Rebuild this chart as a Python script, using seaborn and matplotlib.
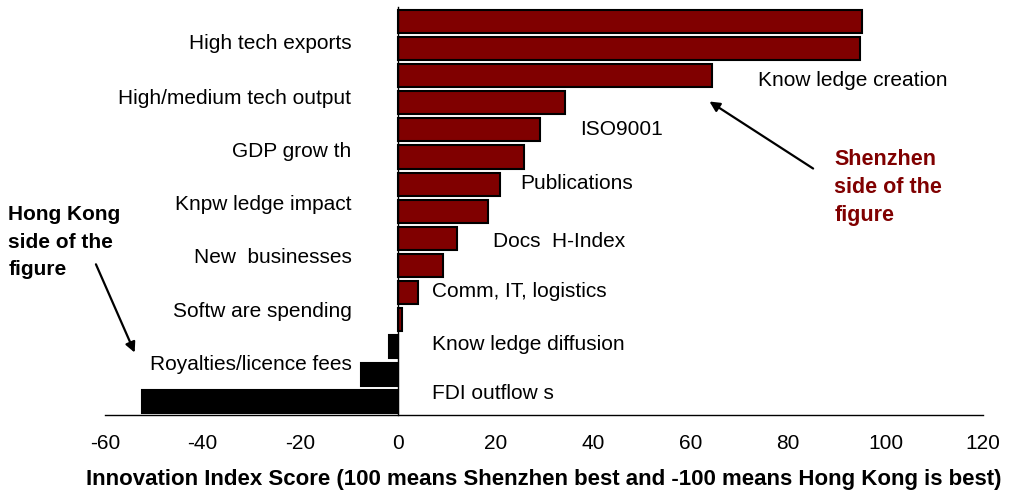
import matplotlib
matplotlib.use("Agg")
import matplotlib.pyplot as plt
import seaborn as sns
import pandas as pd
import numpy as np

# ---- data ----
bar_values = [95.1, 94.7, 64.5, 34.2, 29.2, 25.9, 21.0, 18.5, 12.2, 9.3, 4.2, 0.9, -1.8, -7.6, -52.5]
left_labels = ["High tech exports", "High/medium tech output", "GDP grow th",
               "Knpw ledge impact", "New  businesses", "Softw are spending",
               "Royalties/licence fees"]
right_labels = ["Know ledge creation", "ISO9001", "Publications", "Docs  H-Index",
                "Comm, IT, logistics", "Know ledge diffusion", "FDI outflow s"]
x_ticks = [-60, -40, -20, 0, 20, 40, 60, 80, 100, 120]
x_label = "Innovation Index Score (100 means Shenzhen best and -100 means Hong Kong is best)"
hk_note = "Hong Kong\nside of the\nfigure"
sz_note = "Shenzhen\nside of the\nfigure"

sns.set_theme(style="white")
plt.rcParams["font.family"] = ["Liberation Sans", "DejaVu Sans"]
plt.rcParams["text.color"] = "black"
plt.rcParams["axes.labelcolor"] = "black"
plt.rcParams["xtick.color"] = "black"
plt.rcParams["ytick.color"] = "black"

RED = "#800000"
df = pd.DataFrame({
    "pos": [str(i) for i in range(len(bar_values))],
    "value": bar_values,
    "side": ["SZ" if v >= 0 else "HK" for v in bar_values],
})

fig = plt.figure(figsize=(10.2, 4.95), dpi=100)
ax = fig.add_axes([0.103, 0.162, 0.861, 0.824])

sns.barplot(data=df, x="value", y="pos", hue="side", orient="h",
            palette={"SZ": RED, "HK": "black"}, dodge=False, legend=False,
            saturation=1, width=0.85, edgecolor="black", linewidth=1.5, ax=ax)

n = len(bar_values)
ax.set_xlim(-60, 120)
ax.set_ylim(n - 0.55, -0.53)
ax.set_xticks(x_ticks)
ax.set_xticklabels([str(t) for t in x_ticks], fontsize=15)
ax.set_yticks(np.arange(-0.5, n, 1.0))
ax.set_yticklabels([])
ax.set_ylabel("")
ax.set_xlabel(x_label, fontsize=16, fontweight="bold", labelpad=11)

for s in ["top", "right"]:
    ax.spines[s].set_visible(False)
ax.spines["left"].set_position(("data", 0))
ax.spines["left"].set_color("black")
ax.spines["bottom"].set_color("black")
ax.spines["left"].set_linewidth(1.0)
ax.spines["bottom"].set_linewidth(1.0)
ax.tick_params(axis="x", direction="out", length=6, width=1, color="black", pad=8)
ax.tick_params(axis="y", direction="out", length=5, width=1, color="black", pad=0)

# category labels
left_y = [0.8, 2.85, 4.8, 6.75, 8.7, 10.7, 12.65]
for lab, yy in zip(left_labels, left_y):
    ax.text(-9.5, yy, lab, ha="right", va="center", fontsize=15, color="black")
right_pos = [(73.9, 2.17), (37.4, 3.97), (25.1, 5.96), (19.5, 8.1),
             (7.0, 9.96), (7.0, 11.9), (7.0, 13.7)]
for lab, (xx, yy) in zip(right_labels, right_pos):
    ax.text(xx, yy, lab, ha="left", va="center", fontsize=15, color="black")

# notes with arrows
ax.text(-79.8, 6.78, hk_note, ha="left", va="top", fontsize=15, fontweight="bold",
        color="black", linespacing=1.55, clip_on=False)
ax.annotate("", xy=(-53.7, 12.3), xytext=(-62.1, 8.86),
            arrowprops=dict(arrowstyle="-|>", color="black", lw=1.6, mutation_scale=15),
            annotation_clip=False)
ax.text(89.5, 4.72, sz_note, ha="left", va="top", fontsize=15.5, fontweight="bold",
        color=RED, linespacing=1.42, clip_on=False)
ax.annotate("", xy=(63.4, 2.9), xytext=(85.6, 5.48),
            arrowprops=dict(arrowstyle="-|>", color="black", lw=1.6, mutation_scale=15),
            annotation_clip=False)

fig.savefig("out.png", dpi=100)
